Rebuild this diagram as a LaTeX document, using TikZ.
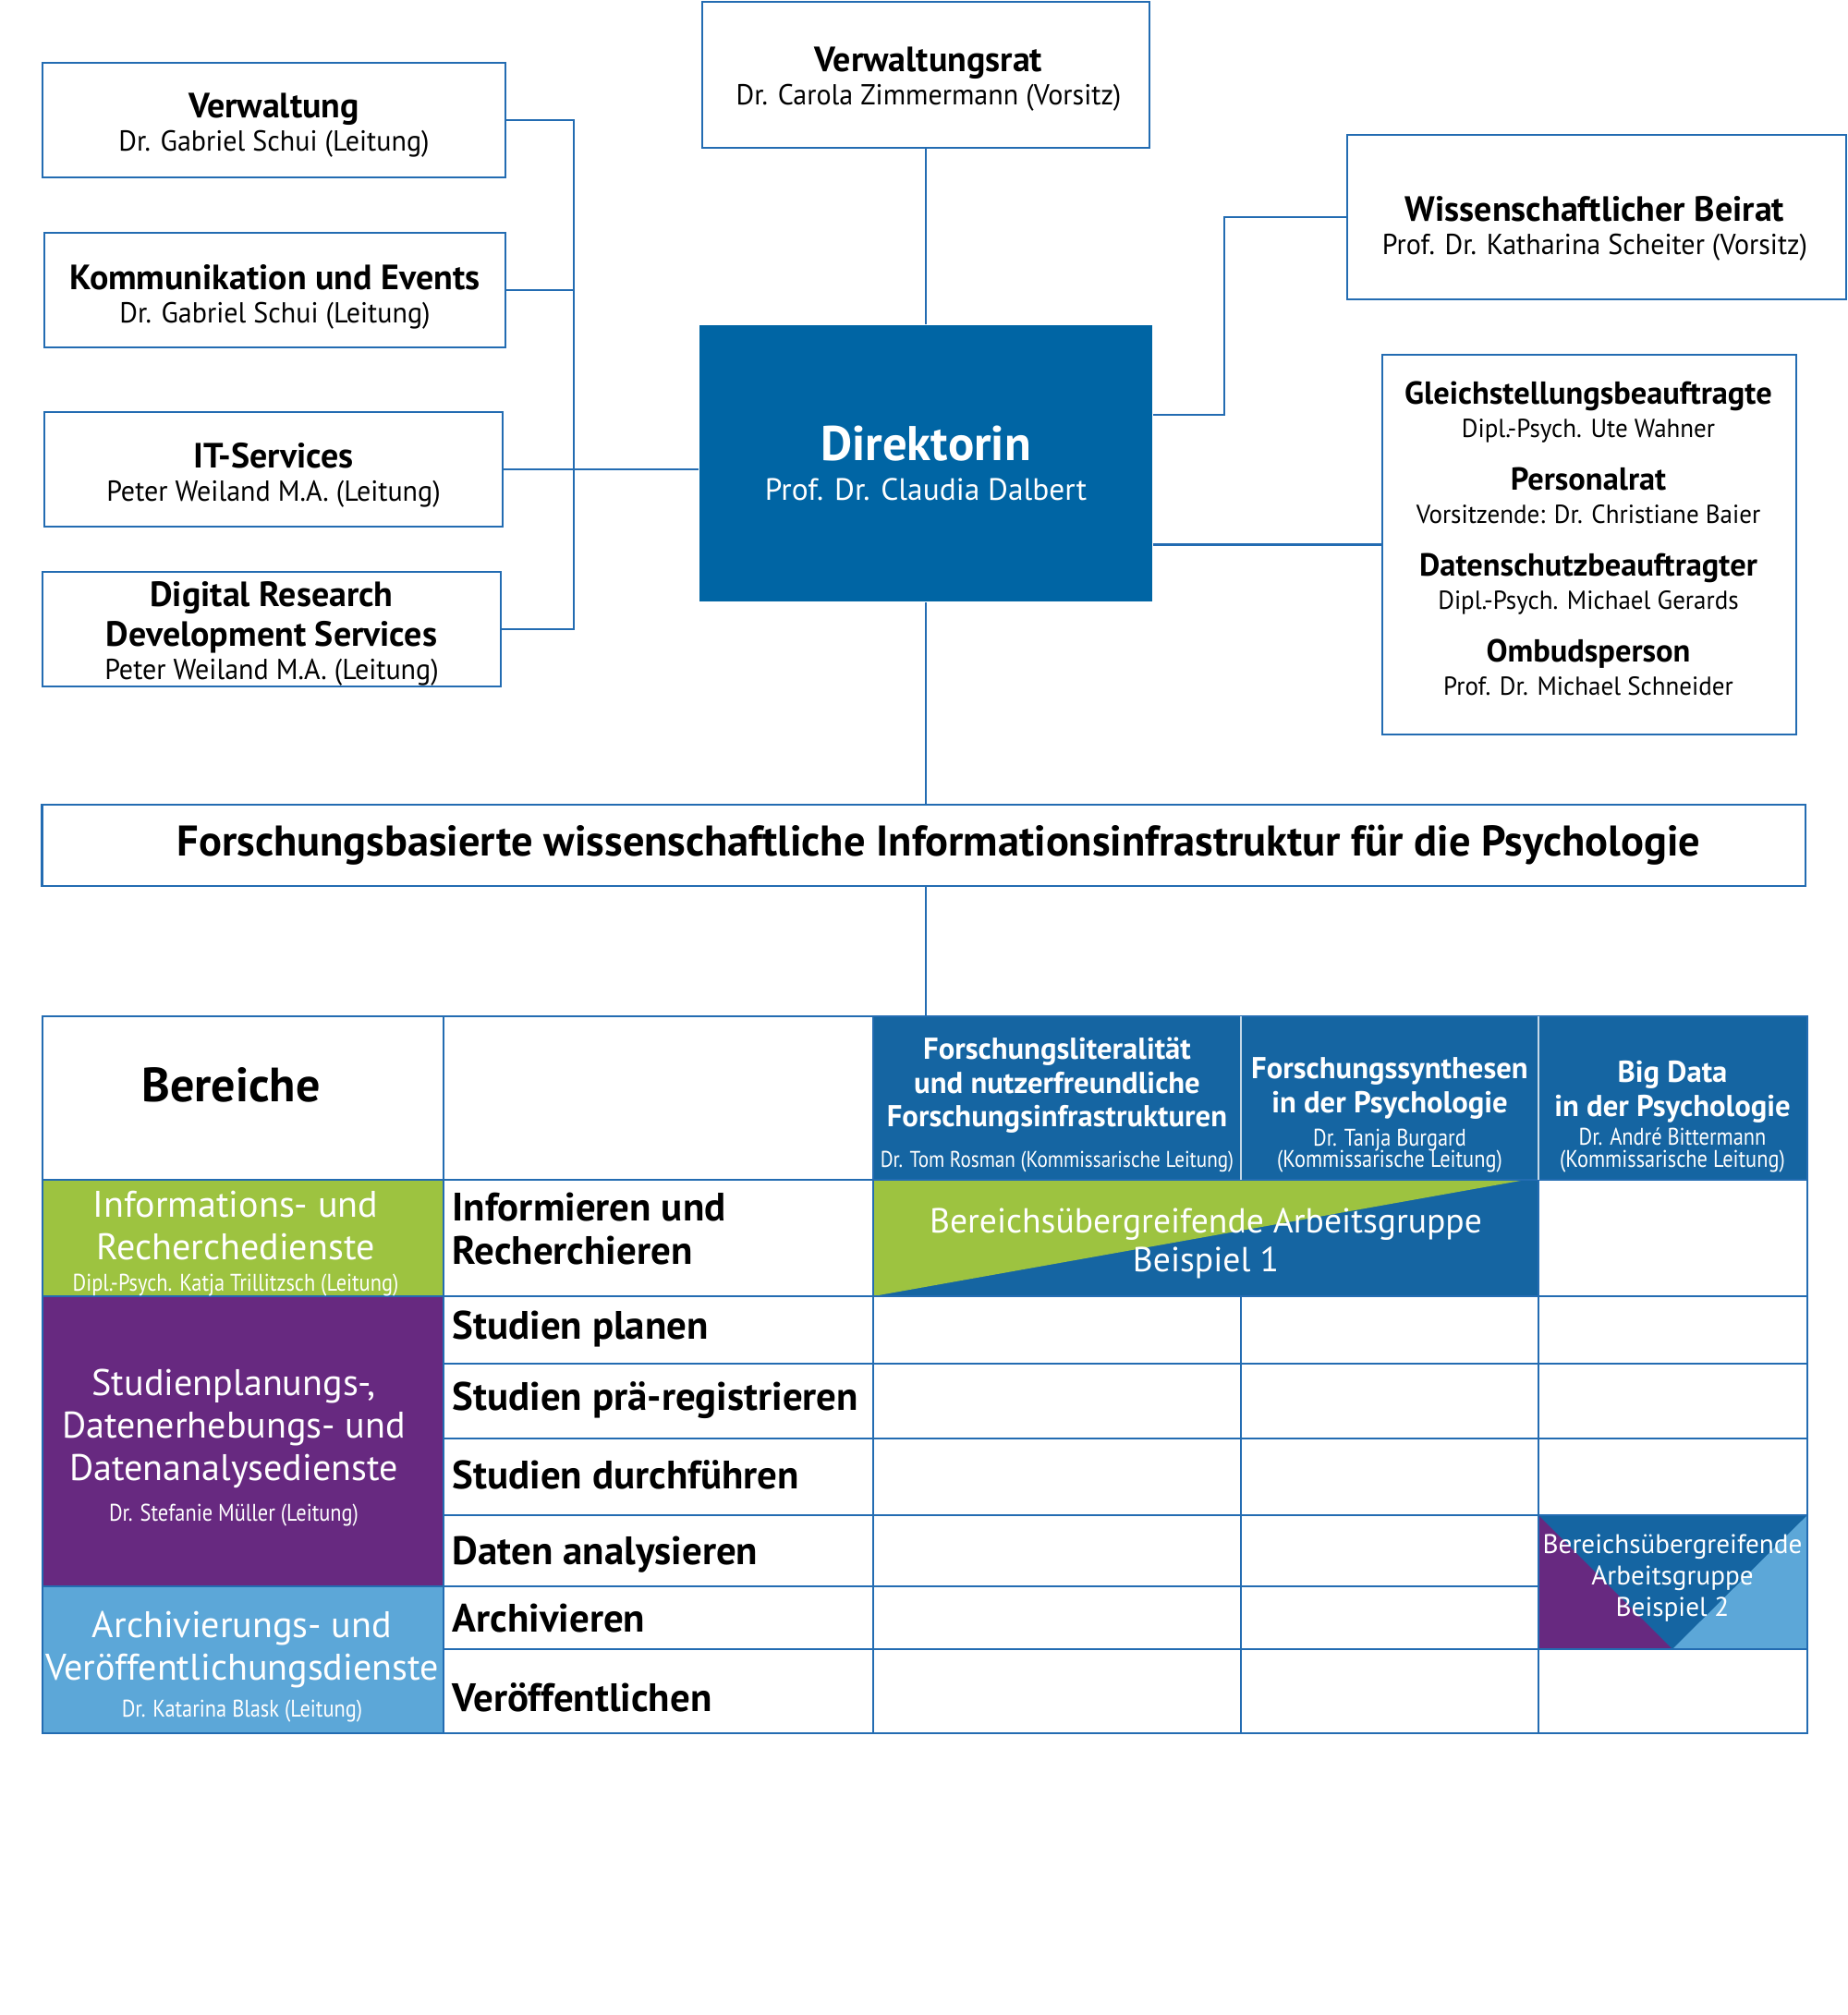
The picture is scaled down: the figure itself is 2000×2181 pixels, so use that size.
\documentclass[tikz,border=0pt]{standalone}
\usepackage{fontspec}
\setmainfont{PT Sans}
\newfontfamily\personfont{PT Sans}[FakeStretch=0.96]
\newfontfamily\condfont{PT Sans}[FakeStretch=0.86]
\definecolor{dirblue}{RGB}{0,101,164}
\definecolor{hdblue}{RGB}{21,101,162}
\definecolor{lnblue}{RGB}{35,108,178}
\definecolor{infogreen}{RGB}{157,195,64}
\definecolor{studpurple}{RGB}{103,41,128}
\definecolor{archblue}{RGB}{92,167,216}
\newcommand{\titel}[2][10.8]{{\normalfont\fontsize{#1}{12}\selectfont\bfseries #2}}
\newcommand{\klein}[2][7.4]{{\condfont\mdseries\fontsize{#1}{8}\selectfont #2}}
\begin{document}
\begin{tikzpicture}[x=0.01cm,y=-0.01cm,
	box/.style={draw=lnblue,line width=0.6pt,fill=white,inner sep=0pt},
	boxtext/.style={align=center,inner sep=0pt,font=\personfont\fontsize{8.9}{10.2}\selectfont},
	conn/.style={draw=lnblue,line width=0.6pt},
	gridline/.style={draw=lnblue,line width=0.6pt},
	rowlabel/.style={anchor=west,align=left,inner sep=0pt,font=\fontsize{12.2}{13.4}\selectfont\bfseries},
	dienst/.style={align=center,text=white,inner sep=0pt,font=\fontsize{11.4}{13.1}\selectfont},
	spalte/.style={align=center,text=white,inner sep=0pt,font=\fontsize{9.3}{10.4}\selectfont\bfseries}]
	\useasboundingbox (0,0) rectangle (2000,2181);
	% Stabsstellen links
	\node[box,minimum width=5.01cm,minimum height=1.24cm] (verw) at (296.5,130) {};
	\node[box,minimum width=4.99cm,minimum height=1.24cm] (komm) at (297.5,314) {};
	\node[box,minimum width=4.96cm,minimum height=1.24cm] (itsv) at (296,508) {};
	\node[box,minimum width=4.96cm,minimum height=1.24cm] (digi) at (294,681) {};
	\node[boxtext] (verwlbl) at (296.5,136) {\titel{Verwaltung}\\Dr. Gabriel Schui (Leitung)};
	\node[boxtext] (kommlbl) at (297.5,321) {\titel{Kommunikation und Events}\\Dr. Gabriel Schui (Leitung)};
	\node[boxtext] (itsvlbl) at (296,514) {\titel{IT-Services}\\Peter Weiland M.A. (Leitung)};
	\node[boxtext] (digilbl) at (294,686) {\titel{Digital Research}\\[2pt]\titel{Development Services}\\Peter Weiland M.A. (Leitung)};
	% Leitung und Gremien
	\node[box,minimum width=4.84cm,minimum height=1.58cm] (vrat) at (1002,81) {};
	\node[boxtext] (vratlbl) at (1005,86) {\titel{Verwaltungsrat}\\Dr. Carola Zimmermann (Vorsitz)};
	\node[box,draw=none,fill=dirblue,text=white,align=center,minimum width=4.9cm,minimum height=2.99cm,font=\fontsize{9.5}{12.4}\selectfont] (dir) at (1002,501.5) {{\fontsize{15}{15}\selectfont\bfseries Direktorin}\\Prof. Dr. Claudia Dalbert};
	\node[box,minimum width=5.4cm,minimum height=1.78cm] (beirat) at (1728,235) {};
	\node[boxtext] (beiratlbl) at (1726,247) {\titel{Wissenschaftlicher Beirat}\\Prof. Dr. Katharina Scheiter (Vorsitz)};
	\node[box,minimum width=4.48cm,minimum height=4.11cm] (gleich) at (1720,589.5) {};
	\node[boxtext,font=\personfont\fontsize{8}{10.2}\selectfont] (gleichlbl) at (1719,583) {\titel[9.8]{Gleichstellungsbeauftragte}\\Dipl.-Psych. Ute Wahner\\[6pt]
		\titel[9.8]{Personalrat}\\Vorsitzende: Dr. Christiane Baier\\[6pt]
		\titel[9.8]{Datenschutzbeauftragter}\\Dipl.-Psych. Michael Gerards\\[6pt]
		\titel[9.8]{Ombudsperson}\\Prof. Dr. Michael Schneider};
	\node[box,minimum width=19.07cm,minimum height=0.88cm] (forsch) at (999.5,915) {};
	\node[boxtext,font=\fontsize{13.2}{15}\selectfont\bfseries] (forschlbl) at (1016,915) {Forschungsbasierte wissenschaftliche Informationsinfrastruktur für die Psychologie};
	% Verbindungen
	\coordinate (bus) at (621,0);
	\coordinate (knick) at (1325,449);
	\coordinate (tabtop) at (1002,1100);
	\draw[conn] (verw.east) -| (digi.east -| bus) -- (digi.east);
	\draw[conn] (komm.east) -- (komm.east -| bus);
	\draw[conn] (itsv.east) -- (itsv.east -| dir.west);
	\draw[conn] (vrat.south) -- (dir.north);
	\draw[conn] (knick -| dir.east) -- (knick) |- (beirat.west);
	\draw[conn] (gleich.west) -- (gleich.west -| dir.east);
	\draw[conn] (dir.south) -- (dir.south |- forsch.north);
	\draw[conn] (forsch.south -| tabtop) -- (tabtop);
	% Bereiche und Abteilungen
	\fill[hdblue] (945,1100) rectangle (1956,1277);
	\fill[infogreen] (46,1277) rectangle (480,1403);
	\fill[studpurple] (46,1403) rectangle (480,1717);
	\fill[archblue] (46,1717) rectangle (480,1876);
	\fill[hdblue] (945,1277) rectangle (1665,1403);
	\fill[infogreen] (945,1277) -- (1651,1277) -- (945,1403) -- cycle;
	\fill[hdblue] (1665,1640) rectangle (1956,1785);
	\fill[studpurple] (1665,1640) -- (1810,1785) -- (1665,1785) -- cycle;
	\fill[archblue] (1956,1640) -- (1810,1785) -- (1956,1785) -- cycle;
	\draw[gridline] (46,1100) rectangle (1956,1876);
	\foreach \y in {1277,1403} \draw[gridline] (46,\y) -- (1956,\y);
	\foreach \y in {1476,1557,1640,1785} \draw[gridline] (480,\y) -- (1956,\y);
	\draw[gridline] (46,1717) -- (1665,1717);
	\foreach \x in {480,945} \draw[gridline] (\x,1100) -- (\x,1876);
	\draw[gridline] (1665,1277) -- (1665,1876);
	\draw[gridline] (1343,1403) -- (1343,1876);
	\foreach \x in {1343,1665} \draw[white!75!hdblue,line width=0.4pt] (\x,1100) -- (\x,1277);
	\node[font=\fontsize{14.8}{16}\selectfont\bfseries] (bereiche) at (250,1174) {Bereiche};
	\node[spalte] (literal) at (1144,1196) {Forschungsliteralität\\und nutzerfreundliche\\Forschungsinfrastrukturen\\[2pt]\klein[7]{Dr. Tom Rosman (Kommissarische Leitung)}};
	\node[spalte] (synth) at (1504,1207) {Forschungssynthesen\\in der Psychologie\\[0pt]\klein{Dr. Tanja Burgard}\\[-4pt]\klein{(Kommissarische Leitung)}};
	\node[spalte] (bigdata) at (1810,1209) {Big Data\\in der Psychologie\\[-1.5pt]\klein{Dr. André Bittermann}\\[-3.5pt]\klein{(Kommissarische Leitung)}};
	\node[dienst] (info) at (255,1346) {Informations- und\\Recherchedienste\\[-3.4pt]\klein{Dipl.-Psych. Katja Trillitzsch (Leitung)}};
	\node[dienst] (studien) at (253,1567) {Studienplanungs-,\\Datenerhebungs- und\\Datenanalysedienste\\[-0.8pt]\klein{Dr. Stefanie Müller (Leitung)}};
	\node[dienst] (archiv) at (262,1804) {Archivierungs- und\\Veröffentlichungsdienste\\[-1.8pt]\klein{Dr. Katarina Blask (Leitung)}};
	% Taetigkeiten
	\node[rowlabel] (informieren) at (489,1330) {Informieren und\\Recherchieren};
	\node[rowlabel] (planen) at (489,1438) {Studien planen};
	\node[rowlabel] (praereg) at (489,1516) {Studien prä-registrieren};
	\node[rowlabel] (durchf) at (489,1596) {Studien durchführen};
	\node[rowlabel] (analys) at (489,1683) {Daten analysieren};
	\node[rowlabel] (archivieren) at (489,1752) {Archivieren};
	\node[rowlabel] (veroeff) at (489,1837) {Veröffentlichen};
	% Arbeitsgruppen
	\node[dienst,font=\fontsize{10.7}{11.9}\selectfont] (bsp1) at (1305,1346) {Bereichsübergreifende Arbeitsgruppe\\Beispiel 1};
	\node[dienst,font=\fontsize{8.3}{9.7}\selectfont] (bsp2) at (1810,1708) {Bereichsübergreifende\\Arbeitsgruppe\\Beispiel 2};
\end{tikzpicture}
\end{document}
